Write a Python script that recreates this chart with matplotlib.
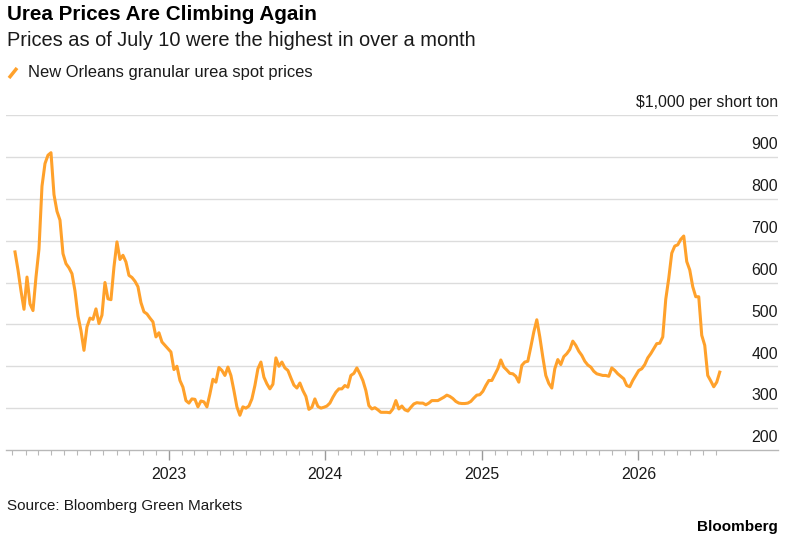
import matplotlib
matplotlib.use("Agg")
import matplotlib.pyplot as plt
from matplotlib.lines import Line2D
import pandas as pd

# ---- data (weekly, Fridays) ----
start_date = "2022-01-07"
prices = [
    673, 630, 580, 536, 613, 549, 533, 613, 680, 830,
    884, 904, 910, 810, 770, 749, 669, 645, 635, 621,
    580, 520, 485, 438, 494, 515, 512, 537, 502, 522,
    600, 561, 559, 637, 697, 655, 665, 649, 617, 612,
    603, 590, 552, 530, 525, 515, 506, 470, 480, 458,
    450, 442, 434, 392, 400, 366, 350, 318, 312, 322,
    321, 303, 317, 315, 303, 334, 369, 362, 397, 390,
    378, 398, 378, 342, 303, 283, 303, 300, 305, 322,
    354, 394, 410, 374, 358, 346, 357, 420, 400, 410,
    396, 390, 372, 355, 348, 360, 342, 328, 297, 302,
    322, 304, 300, 302, 305, 312, 326, 338, 346, 346,
    354, 350, 378, 383, 396, 382, 366, 342, 306, 298,
    301, 296, 290, 290, 290, 289, 298, 318, 298, 305,
    296, 293, 302, 310, 313, 312, 312, 308, 312, 318,
    318, 318, 322, 326, 331, 328, 323, 316, 312, 311,
    311, 312, 316, 324, 331, 332, 340, 354, 366, 366,
    380, 394, 415, 398, 391, 383, 382, 376, 362, 402,
    410, 412, 446, 482, 511, 470, 422, 378, 359, 348,
    394, 416, 404, 423, 430, 440, 460, 450, 436, 426,
    412, 403, 398, 388, 382, 380, 378, 378, 376, 396,
    390, 382, 376, 370, 354, 351, 366, 378, 390, 394,
    404, 420, 430, 442, 454, 455, 470, 560, 610, 670,
    687, 690, 703, 711, 650, 630, 590, 566, 566, 474,
    450, 378, 365, 351, 362, 386,
]
dates = pd.date_range(start_date, periods=len(prices), freq="W-FRI")

y_ticks = [200, 300, 400, 500, 600, 700, 800, 900, 1000]
y_labels = ["200", "300", "400", "500", "600", "700", "800", "900", "$1,000 per short ton"]
year_ticks = ["2023-01-01", "2024-01-01", "2025-01-01", "2026-01-01"]
year_labels = ["2023", "2024", "2025", "2026"]

title = "Urea Prices Are Climbing Again"
subtitle = "Prices as of July 10 were the highest in over a month"
legend_label = "New Orleans granular urea spot prices"
source = "Source: Bloomberg Green Markets"

ORANGE = "#FFA12B"
GRID = "#DCDCDC"
TEXT = "#1A1A1A"

plt.rcParams["font.family"] = ["Liberation Sans", "DejaVu Sans"]

W, H = 794, 545
fig = plt.figure(figsize=(W / 100, H / 100), dpi=100)

def fx(x):
    return x / W

def fy(y):
    return 1 - y / H

ax_left, ax_right, ax_top, ax_bot = 6, 778, 115, 450
ax = fig.add_axes([fx(ax_left), fy(ax_bot), fx(ax_right - ax_left), (ax_bot - ax_top) / H])

ax.plot(dates, prices, color=ORANGE, lw=2.2, solid_joinstyle="round", zorder=3)

ax.set_ylim(200, 1000)
ax.set_xlim(pd.Timestamp("2021-12-17"), pd.Timestamp("2026-11-23"))

for v in y_ticks[1:]:
    ax.axhline(v, color=GRID, lw=1.0, zorder=1)
for v, lab in zip(y_ticks, y_labels):
    ax.annotate(lab, xy=(1, v), xycoords=ax.get_yaxis_transform(),
                xytext=(0, 5.5), textcoords="offset points",
                ha="right", va="baseline", fontsize=11.4, color=TEXT)

for s in ["top", "left", "right"]:
    ax.spines[s].set_visible(False)
ax.spines["bottom"].set_color("#B8B8B8")
ax.spines["bottom"].set_linewidth(1.0)
ax.set_yticks([])

ax.set_xticks(pd.to_datetime(year_ticks))
ax.set_xticklabels(year_labels)
months = pd.date_range("2022-01-01", "2026-07-01", freq="MS")
ax.set_xticks(months, minor=True)
ax.tick_params(axis="x", which="major", length=7, width=1, color="#9A9A9A",
               labelsize=11.4, labelcolor=TEXT, pad=5)
ax.tick_params(axis="x", which="minor", length=3.5, width=0.8, color="#B8B8B8")

# header
fig.text(fx(7), fy(19.5), title, fontsize=14.9, fontweight="bold", color="black",
         ha="left", va="baseline")
fig.text(fx(7), fy(46), subtitle, fontsize=14.4, color=TEXT, ha="left", va="baseline")
fig.add_artist(Line2D([fx(9), fx(17)], [fy(78), fy(68)], color=ORANGE, lw=2.5,
                      solid_capstyle="butt"))
fig.text(fx(28), fy(77.5), legend_label, fontsize=11.9, color=TEXT, ha="left", va="baseline")

# footer
fig.text(fx(7), fy(510), source, fontsize=11.0, color=TEXT, ha="left", va="baseline")
fig.text(fx(778), fy(531), "Bloomberg", fontsize=11, fontweight="bold", color="black",
         ha="right", va="baseline")

fig.savefig("out.png", dpi=100)
